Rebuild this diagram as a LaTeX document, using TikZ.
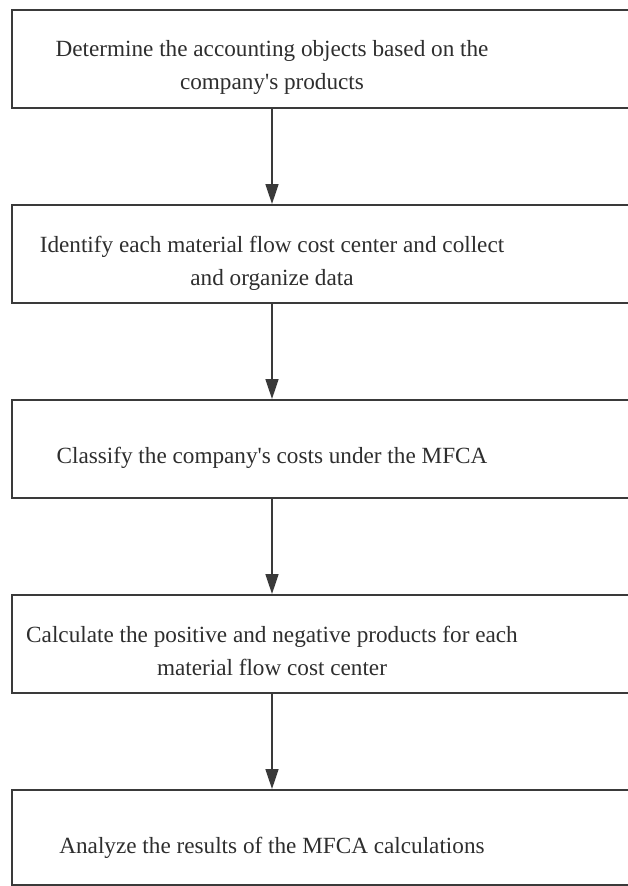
\documentclass[tikz,border=0pt]{standalone}
\usepackage{fontspec}
\setmainfont{Liberation Serif}
\usetikzlibrary{arrows.meta}
\definecolor{edge}{HTML}{3A3A3A}
\definecolor{txt}{HTML}{2E2E2E}
\newcommand{\apos}{\textquotesingle}
\tikzset{
  frame/.style={draw=edge, line width=2pt, rectangle, inner sep=0pt, minimum width=628pt, minimum height=98pt},
  label/.style={text=txt, align=center, inner sep=0pt, anchor=base, font=\fontsize{23.2}{33}\selectfont},
  arr/.style={draw=edge, line width=1.6pt, -{Triangle[width=13pt,length=20pt]}}
}
\begin{document}
\begin{tikzpicture}[x=1pt,y=-1pt]
\useasboundingbox (0,0) rectangle (628,886);
\clip (0,0) rectangle (628,886);
\fill[white] (0,0) rectangle (628,886);
\node[frame] (b1) at (326,59) {};
\node[frame] (b2) at (326,254) {};
\node[frame] (b3) at (326,449) {};
\node[frame] (b4) at (326,644) {};
\node[frame, minimum height=95pt] (b5) at (326,837.5) {};
\node[label] (t1) at (272,89) {Determine the accounting objects based on the\\company\apos s products};
\node[label] (t2) at (272,285) {Identify each material flow cost center and collect\\and organize data};
\node[label] (t3) at (272,463) {Classify the company\apos s costs under the MFCA};
\node[label] (t4) at (272,675) {Calculate the positive and negative products for each\\material flow cost center};
\node[label] (t5) at (272,853) {Analyze the results of the MFCA calculations};
\draw[arr] (b1.south -| t1) -- (b2.north -| t1);
\draw[arr] (b2.south -| t2) -- (b3.north -| t2);
\draw[arr] (b3.south -| t3) -- (b4.north -| t3);
\draw[arr] (b4.south -| t4) -- (b5.north -| t4);
\end{tikzpicture}
\end{document}
